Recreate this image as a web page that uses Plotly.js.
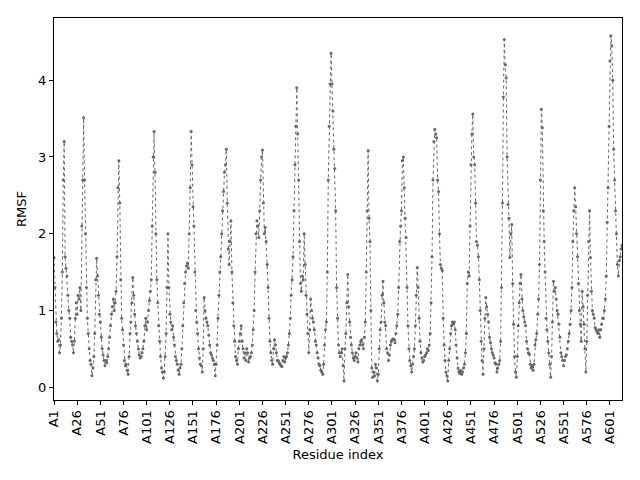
<!DOCTYPE html>
<html>
<head>
<meta charset="utf-8">
<script src="https://cdn.plot.ly/plotly-3.0.1.min.js"></script>
<style>html,body{margin:0;padding:0;background:#fff}#chart{width:640px;height:480px}</style>
</head>
<body>
<div id="chart"></div>
<script>
// RMSF per residue (index 0 = A1)
const rmsf = [
 1.69,1.3,0.85,0.7,0.6,0.62,0.45,0.55,0.9,1.5,
 2.7,3.2,1.7,1.55,1.45,1.2,1.0,0.9,0.65,0.6,
 0.55,0.45,0.6,0.9,1.1,0.95,1.2,1.15,1.3,1.0,
 2.1,2.7,3.51,2.7,2.0,1.3,0.9,0.7,0.5,0.35,
 0.3,0.15,0.25,0.4,0.7,1.4,1.68,1.45,1.2,0.95,
 0.85,0.65,0.5,0.42,0.35,0.28,0.35,0.32,0.4,0.5,
 0.65,0.8,0.95,1.05,1.15,1.0,1.1,1.25,1.7,2.6,
 2.95,2.4,1.4,0.9,0.75,0.55,0.35,0.28,0.3,0.22,
 0.17,0.4,0.7,0.85,1.1,1.43,1.2,0.95,0.8,0.7,
 0.6,0.5,0.42,0.38,0.4,0.45,0.5,0.6,0.8,0.9,
 0.75,0.85,1.0,1.13,1.25,1.4,2.1,3.0,3.33,2.8,
 2.0,1.4,1.1,0.8,0.6,0.4,0.25,0.2,0.12,0.2,
 0.4,0.7,1.3,2.0,1.3,0.95,0.85,0.75,0.8,0.65,
 0.55,0.4,0.35,0.3,0.22,0.17,0.25,0.3,0.5,0.8,
 1.1,1.35,1.5,1.58,1.62,1.55,2.0,2.6,3.33,2.9,
 2.35,2.1,1.5,1.0,0.85,0.7,0.5,0.38,0.3,0.28,
 0.2,0.5,1.17,1.0,0.9,0.85,0.8,0.68,0.55,0.45,
 0.42,0.38,0.35,0.3,0.15,0.3,0.55,0.9,1.2,1.5,
 1.7,2.0,2.3,2.55,2.8,2.9,3.1,2.4,1.8,1.6,
 1.9,2.17,1.5,1.1,0.8,0.6,0.4,0.35,0.3,0.5,
 0.6,0.7,0.8,0.6,0.5,0.38,0.45,0.35,0.5,0.45,
 0.33,0.38,0.4,0.45,0.55,0.75,1.0,1.5,2.0,2.17,
 2.1,1.95,2.3,2.7,3.0,3.09,2.4,2.0,2.08,1.9,
 1.6,1.3,0.9,0.6,0.45,0.35,0.3,0.5,0.62,0.55,
 0.45,0.35,0.35,0.32,0.3,0.28,0.27,0.35,0.4,0.33,
 0.38,0.4,0.45,0.55,0.7,0.9,1.2,1.4,1.7,2.3,
 2.9,3.4,3.9,3.3,2.7,1.9,1.35,1.25,1.45,1.4,
 2.0,1.6,1.2,0.95,0.7,0.45,0.75,1.15,1.0,0.9,
 0.85,0.75,0.6,0.55,0.45,0.38,0.3,0.28,0.22,0.2,
 0.17,0.3,0.55,0.75,0.85,1.5,2.7,3.4,3.95,4.35,
 3.95,3.6,3.1,2.85,2.3,1.3,0.9,0.55,0.45,0.4,
 0.45,0.5,0.28,0.08,0.5,0.7,1.1,1.47,1.05,0.85,
 0.65,0.55,0.45,0.38,0.35,0.4,0.45,0.38,0.33,0.5,
 0.55,0.6,0.62,0.55,0.5,0.65,0.85,1.5,2.3,3.08,
 2.2,1.9,1.0,0.25,0.13,0.2,0.15,0.3,0.25,0.08,
 0.17,0.5,0.75,0.85,1.2,1.38,1.1,0.85,0.8,0.5,
 0.45,0.35,0.42,0.55,0.6,0.62,0.63,0.62,0.58,0.7,
 0.8,0.95,1.3,1.9,2.1,2.3,2.95,3.0,2.6,2.2,
 1.95,1.3,0.8,0.5,0.35,0.28,0.2,0.3,0.4,0.5,
 0.8,1.2,1.56,1.3,0.9,0.6,0.45,0.38,0.33,0.35,
 0.4,0.42,0.45,0.5,0.48,0.55,0.7,1.1,1.7,2.7,
 3.2,3.36,3.3,3.25,2.7,2.55,2.0,1.6,1.55,1.52,
 0.9,0.55,0.35,0.2,0.15,0.08,0.35,0.5,0.7,0.8,
 0.85,0.82,0.85,0.75,0.55,0.38,0.25,0.2,0.18,0.22,
 0.17,0.2,0.25,0.3,0.45,0.7,1.35,1.5,1.45,2.1,
 2.9,3.3,3.56,3.0,2.9,2.4,1.9,1.85,1.7,1.4,
 1.0,0.6,0.35,0.17,0.5,0.9,1.17,1.05,0.95,0.85,
 0.65,0.58,0.5,0.45,0.42,0.38,0.32,0.3,0.2,0.25,
 0.3,0.35,0.6,1.3,2.4,3.78,4.53,4.2,4.03,3.0,
 2.38,2.2,1.69,2.0,2.12,1.35,0.82,0.4,0.2,0.13,
 0.4,0.8,1.1,1.35,1.47,1.15,1.0,0.92,0.85,0.8,
 0.6,0.5,0.45,0.43,0.3,0.25,0.28,0.22,0.3,0.55,
 0.62,0.7,0.95,1.15,1.6,2.7,3.62,3.38,2.3,1.9,
 1.5,0.9,0.75,0.6,0.45,0.3,0.13,0.4,0.85,1.38,
 1.25,1.3,1.15,1.0,0.95,0.82,0.65,0.45,0.4,0.35,
 0.28,0.35,0.4,0.42,0.5,0.6,0.7,0.82,1.0,1.3,
 1.9,2.3,2.6,2.35,2.0,1.7,1.35,1.0,0.82,0.6,
 1.25,1.05,0.82,0.5,0.2,0.6,1.2,1.9,2.3,1.69,
 1.25,1.0,0.95,0.9,0.78,0.75,0.72,0.7,0.75,0.65,
 0.75,0.82,0.9,0.9,1.0,1.15,1.45,2.15,2.6,3.4,
 4.25,4.58,4.45,4.0,3.1,2.7,2.3,2.0,1.6,1.45,
 1.65,1.7,1.8,1.85
];
const tickPositions = [0,25,50,75,100,125,150,175,200,225,250,275,300,325,350,375,400,425,450,475,500,525,550,575,600];
const tickLabels = ["A1","A26","A51","A76","A101","A126","A151","A176","A201","A226","A251","A276","A301","A326","A351","A376","A401","A426","A451","A476","A501","A526","A551","A576","A601"];
const yTicks = [0,1,2,3,4];

const idx = rmsf.map((_, i) => i);

const trace = {
  x: idx, y: rmsf, type: 'scatter', mode: 'lines+markers',
  line: {color: '#666666', width: 1, dash: 'dot'},
  marker: {color: '#666666', size: 3},
  hoverinfo: 'skip'
};

const font = {family: 'DejaVu Sans, sans-serif', size: 13, color: '#000'};
const layout = {
  width: 640, height: 480,
  margin: {l: 54, r: 18, t: 18, b: 80},
  paper_bgcolor: '#fff', plot_bgcolor: '#fff',
  showlegend: false,
  font: font,
  xaxis: {
    range: [0, rmsf.length - 1],
    tickmode: 'array', tickvals: tickPositions, ticktext: tickLabels,
    tickangle: -90, ticks: 'outside', ticklen: 4, tickwidth: 1, tickcolor: '#000',
    showline: true, linecolor: '#000', linewidth: 1, mirror: true,
    showgrid: false, zeroline: false,
    title: {text: 'Residue index', font: font, standoff: 6},
    automargin: false
  },
  yaxis: {
    range: [-0.166, 4.81],
    tickmode: 'array', tickvals: yTicks,
    ticks: 'outside', ticklen: 4, tickwidth: 1, tickcolor: '#000',
    showline: true, linecolor: '#000', linewidth: 1, mirror: true,
    showgrid: false, zeroline: false,
    title: {text: 'RMSF', font: font, standoff: 8},
    automargin: false
  }
};
Plotly.newPlot('chart', [trace], layout, {displayModeBar: false, staticPlot: true});
</script>
</body>
</html>
